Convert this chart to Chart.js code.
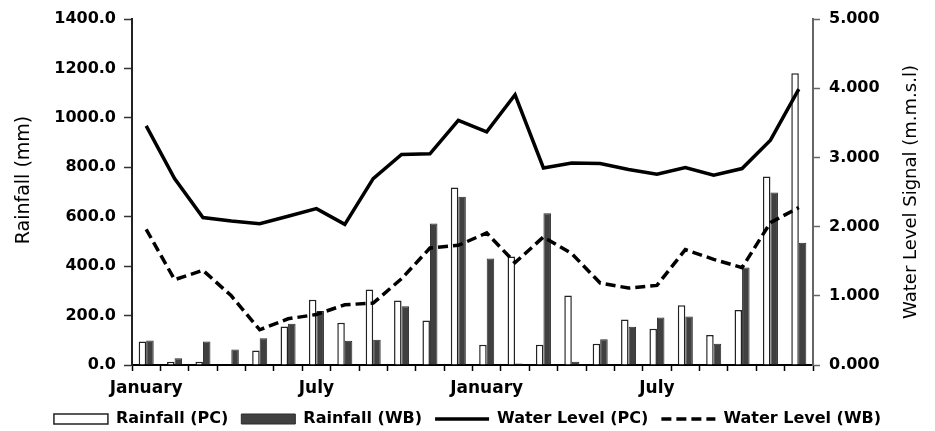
<!DOCTYPE html>
<html>
<head>
<meta charset="utf-8">
<script src="https://cdn.jsdelivr.net/npm/chart.js@4.4.1/dist/chart.umd.min.js"></script>
<style>
    html, body { margin: 0; padding: 0; background: #fff; }
    #wrap { width: 935px; height: 431px; }
</style>
</head>
<body>
<div id="wrap"><canvas id="chart" width="935" height="431"></canvas></div>
<script>
const months = [
    'January', 'February', 'March', 'April', 'May', 'June',
    'July', 'August', 'September', 'October', 'November', 'December',
    'January', 'February', 'March', 'April', 'May', 'June',
    'July', 'August', 'September', 'October', 'November', 'December'
];

// rainfall (mm), left axis
const rainfallPC = [95, 13, 13, 0, 59, 156, 264, 171, 305, 261, 180, 718,
                    82, 439, 82, 281, 86, 184, 147, 242, 121, 223, 763, 1180];
const rainfallWB = [99, 27, 95, 63, 108, 167, 218, 98, 102, 238, 573, 681,
                    431, 6, 614, 13, 104, 155, 192, 196, 86, 395, 698, 495];

// water level signal (m.m.s.l), right axis
const levelPC = [3.456, 2.694, 2.130, 2.081, 2.043, 2.149, 2.260, 2.033, 2.694, 3.042, 3.051, 3.534,
                 3.369, 3.905, 2.848, 2.920, 2.911, 2.825, 2.757, 2.853, 2.742, 2.839, 3.249, 3.987];
const levelWB = [1.961, 1.233, 1.368, 1.000, 0.509, 0.668, 0.730, 0.871, 0.894, 1.247, 1.690, 1.729,
                 1.908, 1.479, 1.850, 1.609, 1.184, 1.112, 1.150, 1.667, 1.527, 1.407, 2.058, 2.275];

const shownMonths = ['January', 'July'];
const FONT = "'DejaVu Sans', Verdana, sans-serif";

// axis titles are drawn by hand: the right one reads bottom to top like the left one
const axisTitles = {
    id: 'axisTitles',
    afterDraw(chart) {
        const ctx = chart.ctx;
        ctx.save();
        ctx.fillStyle = '#000';
        ctx.textAlign = 'center';
        ctx.textBaseline = 'middle';

        ctx.font = '19px ' + FONT;
        ctx.translate(24, 180);
        ctx.rotate(-Math.PI / 2);
        ctx.fillText('Rainfall (mm)', 0, 0);
        ctx.setTransform(1, 0, 0, 1, 0, 0);

        ctx.font = '18px ' + FONT;
        ctx.translate(911, 192);
        ctx.rotate(-Math.PI / 2);
        ctx.fillText('Water Level Signal (m.m.s.l)', 0, 0);
        ctx.restore();
    }
};

new Chart(document.getElementById('chart'), {
    type: 'bar',
    data: {
        labels: months,
        datasets: [
            {
                label: 'Rainfall (PC)',
                data: rainfallPC,
                backgroundColor: '#ffffff',
                borderColor: '#222222',
                borderWidth: 1.5,
                pointStyle: 'rect',
                yAxisID: 'y',
                order: 1
            },
            {
                label: 'Rainfall (WB)',
                data: rainfallWB,
                backgroundColor: '#404040',
                borderColor: '#2b2b2b',
                borderWidth: 1,
                pointStyle: 'rect',
                yAxisID: 'y',
                order: 1
            },
            {
                type: 'line',
                label: 'Water Level (PC)',
                data: levelPC,
                borderColor: '#000000',
                backgroundColor: '#000000',
                borderWidth: 3.5,
                pointRadius: 0,
                pointStyle: 'line',
                tension: 0,
                yAxisID: 'y1',
                order: 0
            },
            {
                type: 'line',
                label: 'Water Level (WB)',
                data: levelWB,
                borderColor: '#000000',
                backgroundColor: '#000000',
                borderWidth: 3.5,
                borderDash: [10, 5],
                pointRadius: 0,
                pointStyle: 'line',
                tension: 0,
                yAxisID: 'y1',
                order: 0
            }
        ]
    },
    options: {
        responsive: false,
        animation: false,
        categoryPercentage: 0.53,
        barPercentage: 1.0,
        layout: {
            padding: { top: 19, left: 0, right: 0, bottom: -6 }
        },
        plugins: {
            tooltip: { enabled: false },
            legend: {
                position: 'bottom',
                labels: {
                    usePointStyle: true,
                    pointStyleWidth: 54,
                    boxHeight: 10,
                    padding: 13,
                    color: '#000',
                    font: { family: FONT, size: 16, weight: 'bold' },
                    sort: (a, b) => a.datasetIndex - b.datasetIndex,
                    generateLabels: (chart) => {
                        const items = Chart.defaults.plugins.legend.labels.generateLabels(chart);
                        items.forEach((item) => {
                            const ds = chart.data.datasets[item.datasetIndex];
                            if (ds.type === 'line') {
                                item.lineDash = ds.borderDash || [];
                                item.lineWidth = 3.5;
                                item.strokeStyle = '#000';
                            }
                        });
                        return items;
                    }
                }
            }
        },
        scales: {
            x: {
                grid: {
                    drawOnChartArea: false,
                    tickLength: 6,
                    tickColor: '#000',
                    tickWidth: 1.5
                },
                border: { color: '#000', width: 2 },
                ticks: {
                    autoSkip: false,
                    maxRotation: 0,
                    padding: 7,
                    color: '#000',
                    font: { family: FONT, size: 17, weight: 'bold' },
                    callback: function (value) {
                        const m = this.getLabelForValue(value);
                        return shownMonths.includes(m) ? m : '';
                    }
                },
                afterFit: (scale) => { scale.height = 33; }
            },
            y: {
                position: 'left',
                min: 0,
                max: 1400,
                grid: {
                    drawOnChartArea: false,
                    tickLength: 8,
                    tickColor: '#333',
                    tickWidth: 1.5
                },
                border: { color: '#222', width: 2 },
                ticks: {
                    stepSize: 200,
                    padding: 8,
                    color: '#000',
                    font: { family: FONT, size: 16, weight: 'bold' },
                    callback: (v) => v.toFixed(1)
                },
                afterFit: (scale) => { scale.width = 132; }
            },
            y1: {
                position: 'right',
                min: 0,
                max: 5,
                grid: {
                    drawOnChartArea: false,
                    tickLength: 7,
                    tickColor: '#666',
                    tickWidth: 1.5
                },
                border: { color: '#666', width: 2 },
                ticks: {
                    stepSize: 1,
                    padding: 9,
                    color: '#000',
                    font: { family: FONT, size: 16, weight: 'bold' },
                    callback: (v) => v.toFixed(3)
                },
                afterFit: (scale) => { scale.width = 122; }
            }
        }
    },
    plugins: [axisTitles]
});
</script>
</body>
</html>
